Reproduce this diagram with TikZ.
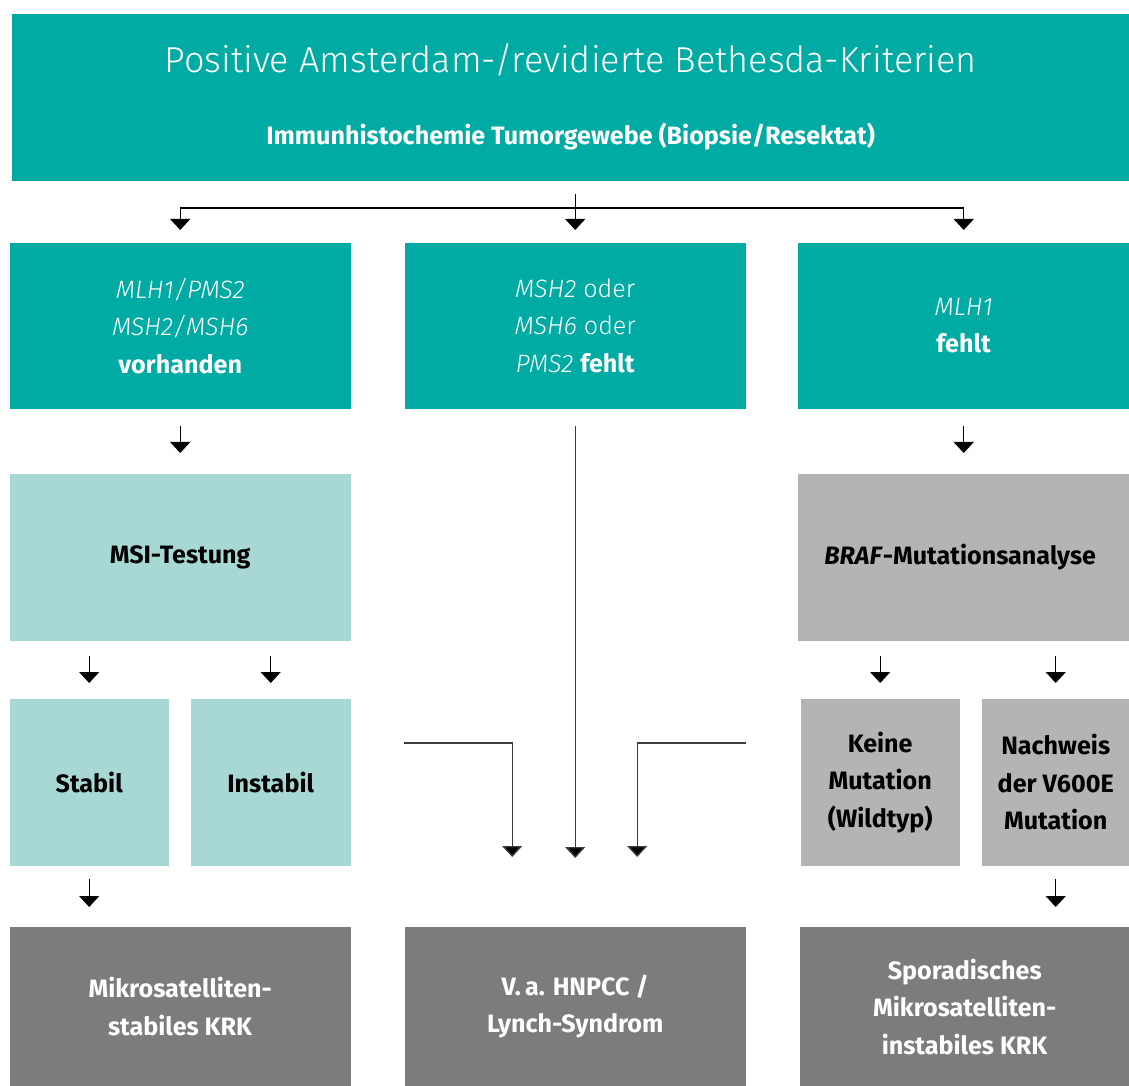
\documentclass[tikz,border=0pt]{standalone}
\usepackage{fontspec}
\setmainfont{Fira Sans Light}[BoldFont={Fira Sans Bold}, ItalicFont={Fira Sans Light Italic}, BoldItalicFont={Fira Sans Bold Italic}]
\usetikzlibrary{positioning,arrows.meta}
\newcommand{\boxfont}{\fontsize{14.3}{21.3}\selectfont}
\newcommand{\titelfont}{\fontsize{20.5}{24}\selectfont}
\definecolor{tuerkis}{RGB}{0,171,163}
\definecolor{hellblau}{RGB}{167,216,212}
\definecolor{hellgrau}{RGB}{179,180,182}
\definecolor{dunkelgrau}{RGB}{125,124,122}
\definecolor{linie}{RGB}{60,60,60}
\tikzset{
    feld/.style = {anchor=north west, inner sep=0pt, align=center, font=\boxfont},
    breit/.style = {minimum width=6.82cm},
    hoch/.style = {minimum height=3.34cm}
}
\begin{document}
\begin{tikzpicture}[>={Triangle[width=0.4cm,length=0.22cm,fill=black]}, line width=0.8pt]
    \useasboundingbox (0,0) rectangle (22.58,-21.72);
    % Kopf
    \node[feld, fill=tuerkis, minimum width=22.36cm, hoch] (kopf) at (0.22,-0.26) {};
    \node[font=\titelfont, text=white] (titel) at 
    ([yshift=-0.94cm]kopf.north) {Positive Amsterdam-/revidierte Bethesda-Kriterien};
    \node[font=\boxfont\bfseries, text=white] (methode) at 
    ([yshift=-2.48cm]kopf.north) {Immunhistochemie Tumorgewebe (Biopsie/Resektat)};
    % erste Reihe
    \node[feld, fill=tuerkis, text=white, breit, minimum height=3.32cm] (links) at (0.18,-4.84) {
        \textit{MLH1/PMS2}\\
        \textit{MSH2/MSH6}\\
        \textbf{vorhanden}
    };
    \node[feld, fill=tuerkis, text=white, breit, minimum height=3.32cm] (mitte) at (8.08,-4.84) {
        \textit{MSH2} oder\\
        \textit{MSH6} oder\\
        \textit{PMS2} \textbf{fehlt}
    };
    \node[feld, fill=tuerkis, text=white, minimum width=6.64cm, minimum height=3.32cm] (rechts) at (15.94,-4.84) {
        \textit{MLH1}\\
        \textbf{fehlt}
    };
    % zweite Reihe
    \node[feld, fill=hellblau, breit, hoch] (msi) at (0.18,-9.46) {\textbf{MSI-Testung}};
    \node[feld, fill=hellgrau, minimum width=6.64cm, hoch] (braf) at (15.94,-9.46) {
        \textbf{\textit{BRAF}-Mutationsanalyse}
    };
    % dritte Reihe
    \node[feld, fill=hellblau, minimum width=3.18cm, hoch] (stabil) at (0.18,-13.96) {\textbf{Stabil}};
    \node[feld, fill=hellblau, minimum width=3.2cm, hoch] (instabil) at (3.8,-13.96) {\textbf{Instabil}};
    \node[feld, fill=hellgrau, minimum width=3.18cm, hoch] (keine) at (16.0,-13.96) {
        \textbf{Keine}\\
        \textbf{Mutation}\\
        \textbf{(Wildtyp)}
    };
    \node[feld, fill=hellgrau, minimum width=2.96cm, hoch] (nachweis) at (19.62,-13.96) {
        \textbf{Nachweis}\\
        \textbf{der V600E}\\
        \textbf{Mutation}
    };
    % vierte Reihe
    \node[feld, fill=dunkelgrau, text=white, breit, minimum height=3.2cm] (mss) at (0.18,-18.52) {
        \textbf{Mikrosatelliten-}\\
        \textbf{stabiles KRK}
    };
    \node[feld, fill=dunkelgrau, text=white, breit, minimum height=3.2cm] (lynch) at (8.08,-18.52) {
        \textbf{V.\,a. HNPCC /}\\
        \textbf{Lynch-Syndrom}
    };
    \node[feld, fill=dunkelgrau, text=white, minimum width=6.6cm, minimum height=3.2cm] (sporadisch) at (15.98,-18.52) {
        \textbf{Sporadisches}\\
        \textbf{Mikrosatelliten-}\\
        \textbf{instabiles KRK}
    };
    % Verbindungen
    \coordinate (verteiler) at ([yshift=0.68cm]mitte.north);
    \draw[->] ([yshift=-0.26cm]kopf.south -| mitte.north) -- ([yshift=0.24cm]mitte.north);
    \draw[->] (verteiler) -| ([yshift=0.24cm]links.north);
    \draw[->] (verteiler) -| ([yshift=0.24cm]rechts.north);
    \draw[->] ([yshift=-0.34cm]links.south) -- ([yshift=0.4cm]msi.north);
    \draw[->] ([yshift=-0.34cm]rechts.south) -- ([yshift=0.4cm]braf.north);
    \draw[->] ([yshift=-0.3cm]msi.south -| stabil.north) -- ([yshift=0.3cm]stabil.north);
    \draw[->] ([yshift=-0.3cm]msi.south -| instabil.north) -- ([yshift=0.3cm]instabil.north);
    \draw[->] ([yshift=-0.3cm]braf.south -| keine.north) -- ([yshift=0.3cm]keine.north);
    \draw[->] ([yshift=-0.3cm]braf.south -| nachweis.north) -- ([yshift=0.3cm]nachweis.north);
    \draw[->] ([yshift=-0.26cm]stabil.south) -- ([yshift=0.38cm]mss.north -| stabil.south);
    \draw[->] ([yshift=-0.26cm]nachweis.south) -- ([yshift=0.38cm]sporadisch.north -| nachweis.south);
    \draw[->, draw=linie] ([yshift=-0.34cm]mitte.south) -- ([yshift=1.36cm]lynch.north);
    \draw[->, draw=linie] ([yshift=-0.9cm]instabil.north -| lynch.west) -| ([xshift=-1.26cm,yshift=1.38cm]lynch.north);
    \draw[->, draw=linie] ([yshift=-0.9cm]keine.north -| lynch.east) -| ([xshift=1.24cm,yshift=1.38cm]lynch.north);
\end{tikzpicture}
\end{document}
